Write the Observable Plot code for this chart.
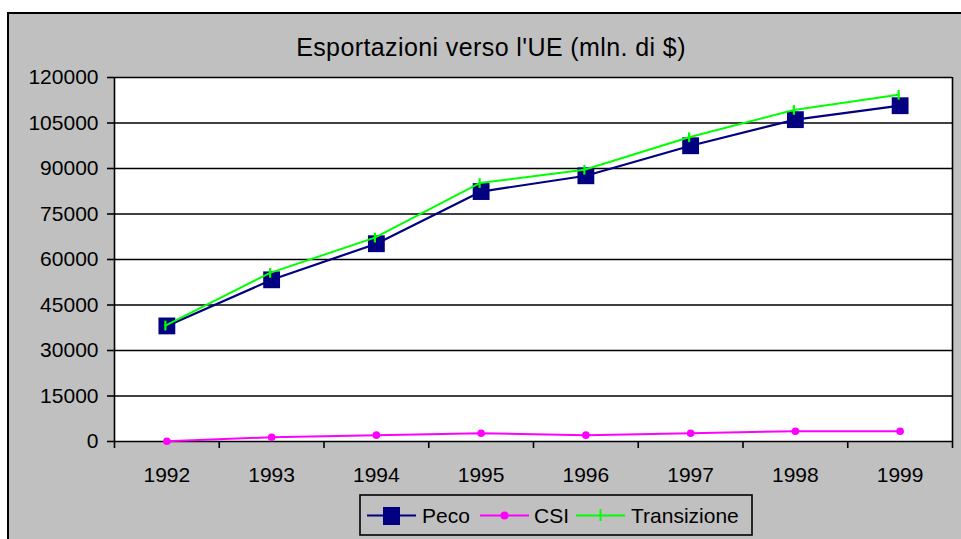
<!DOCTYPE html>
<html>
<head>
<meta charset="utf-8">
<script src="https://cdn.jsdelivr.net/npm/d3@7"></script>
<script src="https://cdn.jsdelivr.net/npm/@observablehq/plot@0.6"></script>
<style>
  html, body { margin: 0; padding: 0; background: #ffffff; overflow: hidden; }
  #page { position: relative; width: 961px; height: 539px; overflow: hidden; font-family: "Liberation Sans", Arial, sans-serif; }
  #frame { position: absolute; left: 7px; top: 12px; width: 1000px; height: 600px; background: #c0c0c0; border: 2px solid #000; }
  #title { position: absolute; left: 0; width: 982px; top: 34.5px; text-align: center; font-size: 25px; line-height: 25px; letter-spacing: 0.4px; color: #000; white-space: nowrap; }
  #chart { position: absolute; left: 0; top: 0; width: 961px; height: 539px; }
  #chart svg text { font-size: 21px; font-family: "Liberation Sans", Arial, sans-serif; }
  #legend { position: absolute; left: 0; top: 0; }
</style>
</head>
<body>
<div id="page">
  <div id="frame"></div>
  <div id="chart"></div>
  <div id="title">Esportazioni verso l'UE (mln. di $)</div>
  <svg id="legend" width="961" height="539"></svg>
</div>
<script>
const years = [1992, 1993, 1994, 1995, 1996, 1997, 1998, 1999];
const peco = [38100, 53300, 65200, 82400, 87600, 97500, 106100, 110700];
const csi = [100, 1400, 2100, 2700, 2100, 2700, 3400, 3400];
const transizione = [38200, 55600, 67200, 85200, 89600, 100300, 109300, 114300];
const yTicks = [0, 15000, 30000, 45000, 60000, 75000, 90000, 105000, 120000];
const seriesNames = ["Peco", "CSI", "Transizione"];
const seriesColors = ["#000080", "#ff00ff", "#00ff00"];

const pecoData = years.map((y, i) => ({year: y, value: peco[i]}));
const csiData = years.map((y, i) => ({year: y, value: csi[i]}));
const transData = years.map((y, i) => ({year: y, value: transizione[i]}));
const boundaries = [...years.map(y => y - 0.5), years[years.length - 1] + 0.5];

const vtick = {
  draw(context, size) {
    const h = Math.sqrt(size) / 2;
    context.moveTo(0, -h);
    context.lineTo(0, h);
  }
};

const chart = Plot.plot({
  width: 961,
  height: 539,
  marginLeft: 114,
  marginRight: 9,
  marginTop: 77,
  marginBottom: 98,
  style: {fontFamily: "'Liberation Sans', Arial, sans-serif", fontSize: "21px", background: "transparent", color: "#000"},
  x: {domain: [1991.5, 1999.5]},
  y: {domain: [0, 120000]},
  marks: [
    Plot.frame({fill: "white", stroke: "none"}),
    Plot.ruleY(yTicks, {stroke: "#000", strokeWidth: 1.6}),
    Plot.ruleX([1991.5], {stroke: "#000", strokeWidth: 1.6}),
    Plot.ruleX([1999.5], {stroke: "#000", strokeWidth: 1.6}),
    Plot.axisY({ticks: yTicks, tickFormat: d3.format("d"), tickSize: 7, tickPadding: 9, label: null, stroke: "#000", strokeWidth: 1.6, fontSize: 21}),
    Plot.axisX({ticks: boundaries, tickFormat: () => "", tickSize: 7, label: null, stroke: "#000", strokeWidth: 1.6}),
    Plot.axisX({ticks: years, tickFormat: d3.format("d"), tickSize: 0, tickPadding: 26, label: null, fontSize: 21}),
    Plot.lineY(csiData, {x: "year", y: "value", stroke: seriesColors[1], strokeWidth: 2}),
    Plot.dot(csiData, {x: "year", y: "value", r: 3.8, fill: seriesColors[1], stroke: "none"}),
    Plot.lineY(pecoData, {x: "year", y: "value", stroke: seriesColors[0], strokeWidth: 2.2}),
    Plot.dot(pecoData, {x: "year", y: "value", symbol: "square", r: 9.5, fill: seriesColors[0], stroke: "none"}),
    Plot.lineY(transData, {x: "year", y: "value", stroke: seriesColors[2], strokeWidth: 2, dx: -1.5}),
    Plot.dot(transData, {x: "year", y: "value", symbol: vtick, r: 5.5, stroke: seriesColors[2], strokeWidth: 2.2, fill: "none", dx: -1.5})
  ]
});
document.getElementById("chart").appendChild(chart);

// Legend (drawn as plain SVG)
const lg = d3.select("#legend");
lg.append("rect").attr("x", 360).attr("y", 495).attr("width", 392).attr("height", 40)
  .attr("fill", "#c0c0c0").attr("stroke", "#000").attr("stroke-width", 1.6);
const swX = [367, 480, 576];
const txtX = [422, 534, 631];
seriesNames.forEach((name, i) => {
  const g = lg.append("g");
  g.append("line").attr("x1", swX[i]).attr("x2", swX[i] + 49).attr("y1", 515.5).attr("y2", 515.5)
    .attr("stroke", seriesColors[i]).attr("stroke-width", 2);
  const cx = swX[i] + 24.5;
  if (i === 0) g.append("rect").attr("x", cx - 8.5).attr("y", 507).attr("width", 17).attr("height", 18).attr("fill", seriesColors[i]);
  if (i === 1) g.append("circle").attr("cx", cx).attr("cy", 515.5).attr("r", 4).attr("fill", seriesColors[i]);
  if (i === 2) g.append("line").attr("x1", cx).attr("x2", cx).attr("y1", 509).attr("y2", 521).attr("stroke", seriesColors[i]).attr("stroke-width", 2);
  g.append("text").attr("x", txtX[i]).attr("y", 523).text(name)
    .attr("font-family", "'Liberation Sans', Arial, sans-serif").attr("font-size", 21).attr("fill", "#000");
});
</script>
</body>
</html>
